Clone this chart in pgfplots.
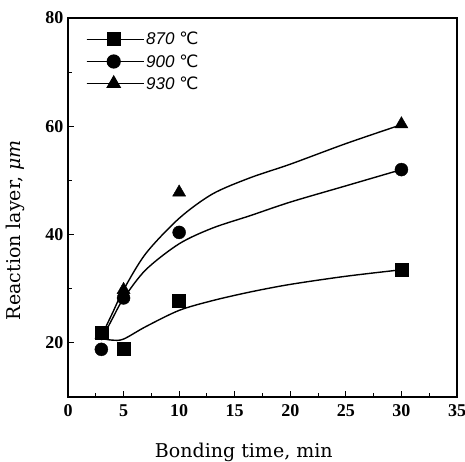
\documentclass[border=0pt]{standalone}
\usepackage{pgfplots}
\pgfplotsset{compat=1.18}
\usepackage{fontspec}
\setmainfont{Liberation Serif}
\newfontfamily\labfont{DejaVu Serif}
\newfontfamily\legfont{Liberation Sans}
\newfontfamily\dejavu{DejaVu Sans}
\begin{document}
\begin{tikzpicture}
\begin{axis}[
  scale only axis,
  width=389pt, height=379pt,
  xmin=0, xmax=35, ymin=10, ymax=80,
  xtick={0,5,...,35}, ytick={20,40,60,80},
  minor x tick num=1, minor y tick num=1,
  axis line style={line width=1.6pt},
  tick align=inside, tick pos=left,
  major tick length=6pt, minor tick length=4pt,
  tick style={line width=1pt, black},
  ticklabel style={font=\bfseries\fontsize{18}{18}\selectfont},
  xticklabel style={yshift=-4pt},
  yticklabel style={xshift=-1pt},
  /pgf/number format/assume math mode=true,
  xlabel={Bonding time, min},
  ylabel={Reaction layer, \textit{μm}},
  xlabel style={font=\labfont\fontsize{19}{19}\selectfont, at={(axis description cs:0.452,-0.145)}, anchor=center},
  ylabel style={font=\labfont\fontsize{19}{19}\selectfont, at={(axis description cs:-0.136,0.44)}, anchor=center, rotate=0},
  legend style={draw=none, fill=none, at={(axis description cs:0.046,0.968)}, anchor=north west,
     font=\legfont\itshape\fontsize{17}{17}\selectfont, row sep=4pt, inner sep=0pt},
  legend cell align=left,
  legend image post style={line width=1.2pt},
  legend image code/.code={\path (0cm,0cm) -- (2.0cm,0cm); \draw[#1] (0cm,0cm) -- (1.8cm,0cm); \path[#1] plot coordinates {(0.95cm,0cm)};},
]
\addlegendimage{black, mark=square*, mark size=6.5pt}
\addlegendentry{870 {\dejavu\upshape ℃}}
\addlegendimage{black, mark=*, mark size=6.5pt}
\addlegendentry{900 {\dejavu\upshape ℃}}
\addlegendimage{black, mark=triangle*, mark size=7.5pt}
\addlegendentry{930 {\dejavu\upshape ℃}}

% fitted curves
\addplot[black, line width=1.4pt, smooth, tension=0.5] coordinates {
 (3,20.8) (4,20.5) (5,20.7) (7,23) (10,26) (13,27.8) (16.4,29.4) (20,30.8) (25,32.3) (30,33.5)};
\addplot[black, line width=1.4pt, smooth, tension=0.5] coordinates {
 (3,20.5) (4,24.5) (5,28.2) (7,33.5) (10,38.3) (13,41.2) (16.4,43.5) (20,46) (25,49) (30,52)};
\addplot[black, line width=1.4pt, smooth, tension=0.5] coordinates {
 (3,21.2) (4,25.5) (5,29.8) (7,36.5) (10,43) (13,47.5) (16.4,50.5) (20,53) (25,56.8) (30,60.3)};

% data points
\addplot[only marks, mark=square*, mark size=6.5pt, black] coordinates {
 (3,21.9) (5,18.9) (10,27.8) (30,33.5)};
\addplot[only marks, mark=*, mark size=6.5pt, black] coordinates {
 (3,18.8) (5,28.3) (10,40.4) (30,52)};
\addplot[only marks, mark=triangle*, mark size=7.5pt, black] coordinates {
 (3,21.5) (5,29.8) (10,47.8) (30,60.4)};
\end{axis}
\pgfresetboundingbox
\path (current axis.south west) ++(-68pt,-64pt) rectangle ++(465pt,461pt);
\end{tikzpicture}
\end{document}
